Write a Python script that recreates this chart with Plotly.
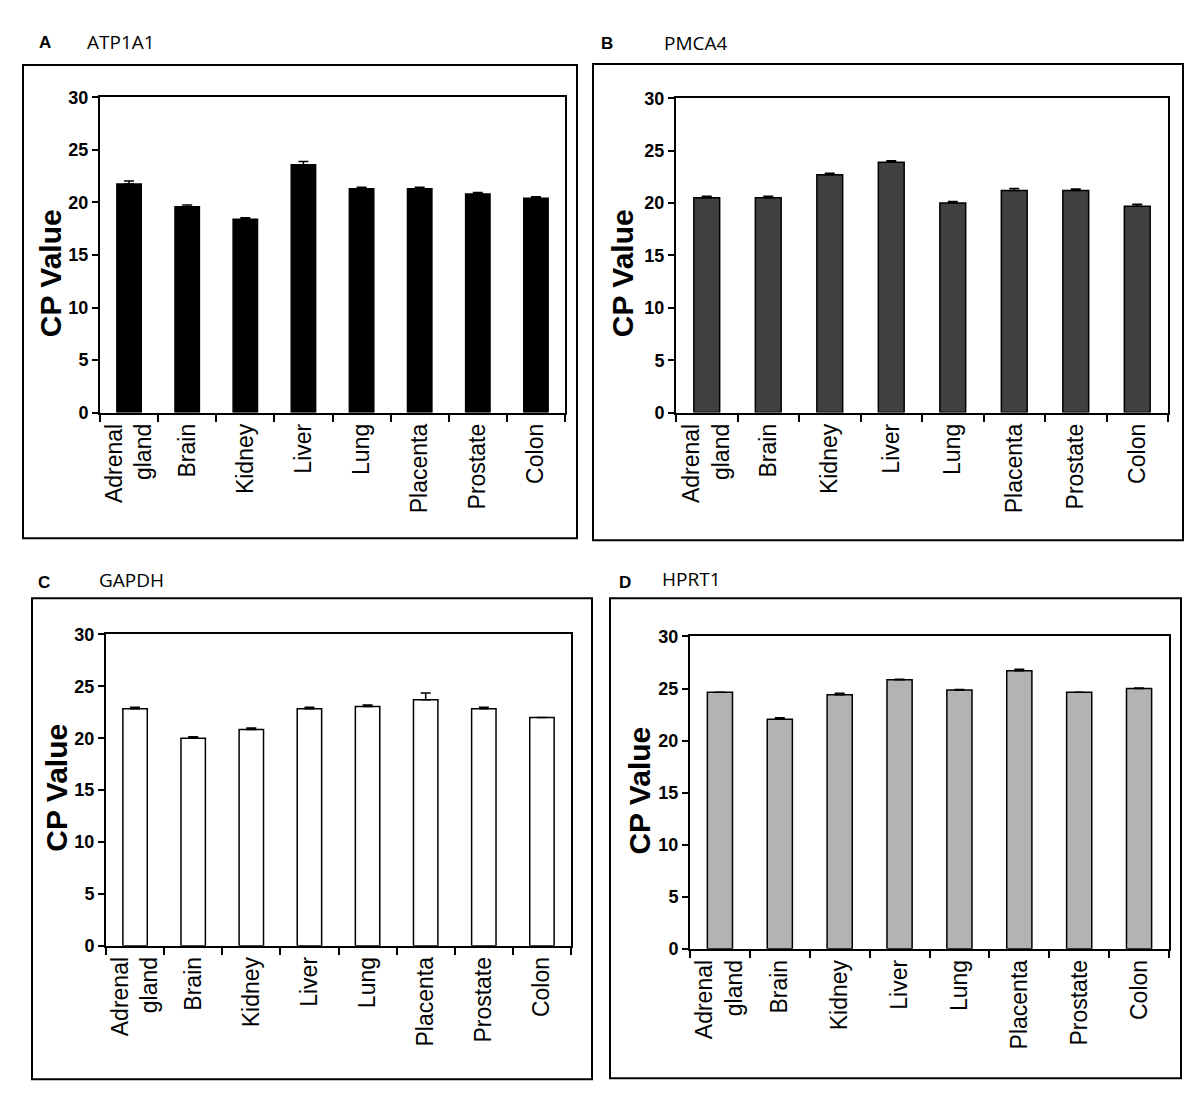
import plotly.graph_objects as go

tissues = ["Adrenal<br>gland", "Brain", "Kidney", "Liver", "Lung", "Placenta", "Prostate", "Colon"]

atp1a1_cp = [21.75, 19.6, 18.4, 23.6, 21.3, 21.3, 20.8, 20.4]
atp1a1_err = [0.3, 0.15, 0.15, 0.3, 0.15, 0.15, 0.15, 0.15]

pmca4_cp = [20.5, 20.5, 22.7, 23.9, 20.0, 21.2, 21.2, 19.7]
pmca4_err = [0.15, 0.15, 0.15, 0.15, 0.15, 0.2, 0.15, 0.2]

gapdh_cp = [22.85, 20.0, 20.85, 22.85, 23.05, 23.7, 22.85, 22.0]
gapdh_err = [0.15, 0.15, 0.15, 0.15, 0.15, 0.65, 0.15, 0.0]

hprt1_cp = [24.65, 22.05, 24.4, 25.85, 24.85, 26.7, 24.65, 25.0]
hprt1_err = [0.0, 0.15, 0.15, 0.05, 0.05, 0.15, 0.0, 0.05]

y_ticks = [0, 5, 10, 15, 20, 25, 30]

W, H = 1200, 1106

panels = [
    dict(letter="A", gene="ATP1A1", vals=atp1a1_cp, err=atp1a1_err, color="#000000",
         plot=(100, 565, 89, 410), box=(23, 577, 56, 538), letter_y=33, gene_y=33,
         letter_x=45, gene_x=85, ylab=(50, 268)),
    dict(letter="B", gene="PMCA4", vals=pmca4_cp, err=pmca4_err, color="#404040",
         plot=(676, 1168, 90, 410), box=(593, 1183, 55, 540), letter_y=34, gene_y=34,
         letter_x=607, gene_x=662, ylab=(622, 268)),
    dict(letter="C", gene="GAPDH", vals=gapdh_cp, err=gapdh_err, color="#ffffff",
         plot=(106, 571, 636, 953), box=(32, 592, 599, 1089), letter_y=583, gene_y=581,
         letter_x=44, gene_x=97, ylab=(57, 792)),
    dict(letter="D", gene="HPRT1", vals=hprt1_cp, err=hprt1_err, color="#b3b3b3",
         plot=(690, 1169, 638, 956), box=(610, 1181, 599, 1088), letter_y=583, gene_y=579,
         letter_x=625, gene_x=660, ylab=(640, 795)),
]

def px(x):
    return x / W

def py(y):
    return 1 - y / H

fig = go.Figure()
shapes = []
annotations = []
layout = {}

for i, p in enumerate(panels):
    n = "" if i == 0 else str(i + 1)
    xa = "x" + n
    ya = "y" + n
    fig.add_trace(go.Bar(
        x=tissues, y=p["vals"], xaxis=xa, yaxis=ya,
        width=0.42,
        marker=dict(color=p["color"], line=dict(color="#000000", width=1.5)),
        error_y=dict(type="data", array=p["err"], arrayminus=[0] * len(p["err"]),
                     symmetric=False, color="#000000", thickness=1.5, width=5),
        showlegend=False,
    ))
    l, r, t, b = p["plot"]
    layout["xaxis" + n] = dict(
        domain=[px(l), px(r)], anchor=ya, type="category",
        tickson="boundaries", ticks="outside", ticklen=7, tickwidth=1.5, tickcolor="#000",
        showline=True, linecolor="#000", linewidth=2, mirror=True, showgrid=False,
        tickangle=-90, tickfont=dict(family="Liberation Sans, Arial", size=23, color="#000"),
        fixedrange=True,
    )
    layout["yaxis" + n] = dict(
        domain=[py(b), py(t)], anchor=xa, range=[0, 30], tickvals=y_ticks,
        ticks="outside", ticklen=6, tickwidth=1.5, tickcolor="#000",
        showline=True, linecolor="#000", linewidth=2, mirror=True, showgrid=False,
        zeroline=False,
        tickfont=dict(family="Liberation Sans, Arial", size=18, color="#000", weight="bold"),
        fixedrange=True,
    )
    bl, br, bt, bb = p["box"]
    shapes.append(dict(type="rect", xref="paper", yref="paper",
                       x0=px(bl), x1=px(br), y0=py(bb), y1=py(bt),
                       line=dict(color="#000", width=2), fillcolor="rgba(0,0,0,0)", layer="below"))
    annotations.append(dict(text="<b>" + p["letter"] + "</b>", xref="paper", yref="paper",
                            x=px(p["letter_x"]), y=py(p["letter_y"]), xanchor="center", yanchor="middle",
                            showarrow=False, font=dict(family="Liberation Sans, Arial", size=17, color="#000")))
    annotations.append(dict(text=p["gene"], xref="paper", yref="paper",
                            x=px(p["gene_x"]), y=py(p["gene_y"]), xanchor="left", yanchor="middle",
                            showarrow=False, font=dict(family="Open Sans", size=19, color="#000")))
    annotations.append(dict(text="<b>CP Value</b>", xref="paper", yref="paper",
                            x=px(p["ylab"][0]), y=py(p["ylab"][1]), xanchor="center", yanchor="middle",
                            textangle=-90, showarrow=False,
                            font=dict(family="Liberation Sans, Arial", size=30, color="#000")))

fig.update_layout(
    width=W, height=H, margin=dict(l=0, r=0, t=0, b=0),
    paper_bgcolor="#ffffff", plot_bgcolor="#ffffff",
    shapes=shapes, annotations=annotations, bargap=0.58,
    **layout,
)

fig.write_html("out.html", config={"displayModeBar": False},
               post_script="document.body.style.margin='0';")
